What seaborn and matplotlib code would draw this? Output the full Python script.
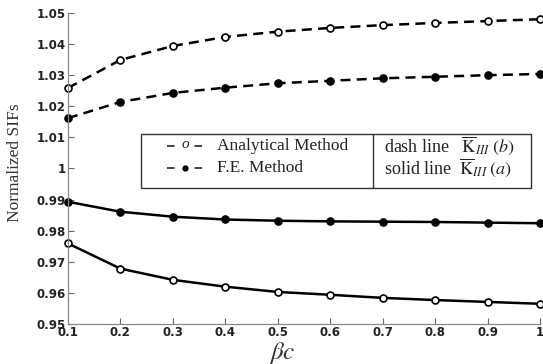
import matplotlib
matplotlib.use("Agg")
import matplotlib.pyplot as plt
import seaborn as sns
from matplotlib.patches import Rectangle
from matplotlib.lines import Line2D

beta_c = [0.1, 0.2, 0.3, 0.4, 0.5, 0.6, 0.7, 0.8, 0.9, 1.0]
kb_analytical = [1.0259, 1.0349, 1.0394, 1.0423, 1.0440, 1.0452, 1.0461, 1.0468, 1.0474, 1.0480]
kb_fe = [1.0162, 1.0214, 1.0243, 1.0260, 1.0274, 1.0282, 1.0290, 1.0295, 1.0300, 1.0304]
ka_fe = [0.9893, 0.9861, 0.9845, 0.9836, 0.9832, 0.9830, 0.9829, 0.9828, 0.9826, 0.9824]
ka_analytical = [0.9759, 0.9678, 0.9642, 0.9620, 0.9603, 0.9594, 0.9584, 0.9577, 0.9571, 0.9565]
yticks = [0.95, 0.96, 0.97, 0.98, 0.99, 1.00, 1.01, 1.02, 1.03, 1.04, 1.05]
ytick_labels = ["0.95", "0.96", "0.97", "0.98", "0.99", "1", "1.01", "1.02", "1.03", "1.04", "1.05"]
xticks = [0.1, 0.2, 0.3, 0.4, 0.5, 0.6, 0.7, 0.8, 0.9, 1.0]
xtick_labels = ["0.1", "0.2", "0.3", "0.4", "0.5", "0.6", "0.7", "0.8", "0.9", "1"]

sns.set_style("ticks")
plt.rcParams["font.family"] = ["DejaVu Sans"]
plt.rcParams["mathtext.fontset"] = "stix"

fig = plt.figure(figsize=(5.43, 3.64), dpi=100)
ax = fig.add_axes([0.1252, 0.1099, 0.8692, 0.8544])

series = [
    (kb_analytical, (0, (4, 2.5)), "white"),
    (kb_fe, (0, (4, 2.5)), "black"),
    (ka_fe, "-", "black"),
    (ka_analytical, "-", "white"),
]
for vals, ls, mfc in series:
    sns.lineplot(x=beta_c, y=vals, ax=ax, color="black", linewidth=1.8,
                 linestyle=ls, marker="o", markersize=5, markerfacecolor=mfc,
                 markeredgecolor="black", markeredgewidth=1.2, clip_on=False)

ax.set_xlim(0.1, 1.0)
ax.set_ylim(0.95, 1.05)
ax.set_xticks(xticks)
ax.set_xticklabels(xtick_labels, fontsize=8.5, fontweight="bold")
ax.set_yticks(yticks)
ax.set_yticklabels(ytick_labels, fontsize=8.5, fontweight="bold")
ax.tick_params(direction="in", length=4, width=0.8, colors="#666666", labelcolor="#222222", pad=1.5)
for s in ["top", "right"]:
    ax.spines[s].set_visible(False)
for s in ["left", "bottom"]:
    ax.spines[s].set_color("#888888")
    ax.spines[s].set_linewidth(0.9)

ax.set_ylabel("Normalized SIFs", fontsize=12.5, family=["Liberation Serif"], color="#333333")
ax.yaxis.set_label_coords(-0.096, 0.52)
ax.set_xlabel(r"$\beta c$", fontsize=18, color="#333333")
ax.xaxis.set_label_coords(0.453, -0.05)

# legend box
x0, x1, xd = 0.1547, 0.981, 0.646
yb, yt = 0.437, 0.611
ax.add_patch(Rectangle((x0, yb), x1 - x0, yt - yb, transform=ax.transAxes,
                       facecolor="white", edgecolor="#333333", linewidth=1.0, zorder=5))
ax.add_line(Line2D([xd, xd], [yb, yt], transform=ax.transAxes, color="#333333", linewidth=1.0, zorder=6))
r1, r2 = 0.572, 0.502
hx0, hx1 = 0.210, 0.286
hxm = (hx0 + hx1) / 2
ax.add_line(Line2D([hx0, hx1], [r1, r1], transform=ax.transAxes, color="#222222",
                   linewidth=1.2, linestyle=(0, (4.5, 12)), zorder=6))
ax.text(hxm, r1 + 0.004, "o", transform=ax.transAxes, fontsize=11, style="italic",
        family=["Liberation Serif"], ha="center", va="center", zorder=7, color="#222222")
ax.add_line(Line2D([hx0, hx1], [r2, r2], transform=ax.transAxes, color="#222222",
                   linewidth=1.2, linestyle=(0, (4.5, 12)), zorder=6))
ax.add_line(Line2D([hxm], [r2], transform=ax.transAxes, marker="o", color="black",
                   markersize=3.5, linestyle="none", zorder=7))
fs = 12.5
ax.text(0.316, r1, "Analytical Method", transform=ax.transAxes, fontsize=fs,
        family=["Liberation Serif"], va="center", zorder=7, color="#222222")
ax.text(0.316, r2, "F.E. Method", transform=ax.transAxes, fontsize=fs,
        family=["Liberation Serif"], va="center", zorder=7, color="#222222")
ax.text(0.669, r1, r"dash line   $\overline{\mathrm{K}}_{\mathit{III}}\;(b)$", transform=ax.transAxes,
        fontsize=fs + 0.5, family=["Liberation Serif"], va="center", zorder=7, color="#222222")
ax.text(0.669, r2, r"solid line  $\overline{\mathrm{K}}_{\mathit{III}}\;(a)$", transform=ax.transAxes,
        fontsize=fs + 0.5, family=["Liberation Serif"], va="center", zorder=7, color="#222222")

fig.savefig("out.png", dpi=100)
